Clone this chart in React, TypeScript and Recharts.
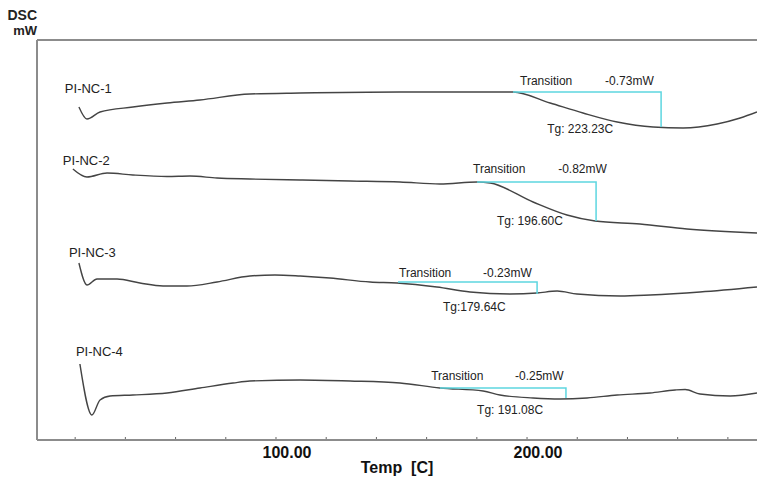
import { LineChart, Line, XAxis, YAxis, ReferenceDot, ReferenceLine, Label } from 'recharts';

type Pt = { t: number; v: number };

// temperature (C) vs. DSC signal in stacked, arbitrary offset units
const nc1: Pt[] = [
  { t: 21.5, v: 33.3 }, { t: 24.7, v: 32.1 }, { t: 29.9, v: 32.8 }, { t: 43, v: 33.3 },
  { t: 56.6, v: 33.7 }, { t: 69.7, v: 34.0 }, { t: 89.6, v: 34.6 }, { t: 109.6, v: 34.7 },
  { t: 149.4, v: 34.8 }, { t: 169.3, v: 34.8 }, { t: 194.4, v: 34.8 }, { t: 209.2, v: 33.7 },
  { t: 222.3, v: 32.7 }, { t: 235.9, v: 31.8 }, { t: 250.2, v: 31.3 }, { t: 262.2, v: 31.2 },
  { t: 275.7, v: 31.6 }, { t: 284.9, v: 32.2 }, { t: 291.6, v: 32.8 },
];

const nc2: Pt[] = [
  { t: 19.1, v: 27.1 }, { t: 24.7, v: 26.3 }, { t: 32.7, v: 26.7 }, { t: 43, v: 26.5 },
  { t: 56.6, v: 26.35 }, { t: 65.7, v: 26.4 }, { t: 76.5, v: 26.2 }, { t: 89.6, v: 26.1 },
  { t: 109.6, v: 26.0 }, { t: 129.5, v: 25.9 }, { t: 149.4, v: 25.8 }, { t: 165.3, v: 25.6 },
  { t: 180.1, v: 25.8 }, { t: 185.3, v: 25.7 }, { t: 202.4, v: 23.8 }, { t: 215.9, v: 22.5 },
  { t: 227.1, v: 21.9 }, { t: 245, v: 21.6 }, { t: 263.7, v: 21.1 }, { t: 291.6, v: 20.7 },
];

const nc3: Pt[] = [
  { t: 21.5, v: 17.7 }, { t: 24.7, v: 15.5 }, { t: 28.7, v: 16.1 }, { t: 36.7, v: 16.1 },
  { t: 45.8, v: 15.7 }, { t: 55, v: 15.4 }, { t: 64.5, v: 15.4 }, { t: 76.5, v: 15.8 },
  { t: 89.6, v: 16.4 }, { t: 99.6, v: 16.5 }, { t: 109.6, v: 16.4 }, { t: 121.5, v: 16.2 },
  { t: 137.5, v: 15.8 }, { t: 148.2, v: 15.7 }, { t: 164.1, v: 15.3 }, { t: 177.3, v: 14.8 },
  { t: 193.2, v: 14.6 }, { t: 204, v: 14.7 }, { t: 212, v: 14.9 }, { t: 219.9, v: 14.6 },
  { t: 237.1, v: 14.4 }, { t: 249, v: 14.5 }, { t: 268.9, v: 14.8 }, { t: 291.6, v: 15.3 },
];

const nc4: Pt[] = [
  { t: 21.9, v: 7.6 }, { t: 26.7, v: 2.5 }, { t: 29.9, v: 4.0 }, { t: 33.9, v: 4.4 },
  { t: 43, v: 4.5 }, { t: 56.6, v: 4.7 }, { t: 69.7, v: 5.2 }, { t: 82.9, v: 5.7 },
  { t: 89.6, v: 5.9 }, { t: 109.6, v: 6.0 }, { t: 129.5, v: 5.9 }, { t: 149.4, v: 5.7 },
  { t: 165.3, v: 5.2 }, { t: 182.5, v: 4.9 }, { t: 189.2, v: 4.5 }, { t: 202.4, v: 4.2 },
  { t: 213.1, v: 4.1 }, { t: 223.9, v: 4.2 }, { t: 235.9, v: 4.5 }, { t: 249, v: 4.7 },
  { t: 259, v: 5.0 }, { t: 263, v: 5.05 }, { t: 268.9, v: 4.6 }, { t: 280.9, v: 4.4 },
  { t: 291.6, v: 4.7 },
];

const curves = [nc1, nc2, nc3, nc4];

// step construction: onset -> end at the onset level, then down to the curve
const transitions = [
  { onset: 194.4, end: 253.4, top: 34.8, bottom: 31.3 },
  { onset: 180.1, end: 227.5, top: 25.8, bottom: 21.9 },
  { onset: 148.6, end: 204.0, top: 15.8, bottom: 14.6 },
  { onset: 165.3, end: 215.5, top: 5.2, bottom: 4.2 },
];

const sampleNames = [
  { t: 15.9, v: 34.7, text: 'PI-NC-1' },
  { t: 15.1, v: 27.5, text: 'PI-NC-2' },
  { t: 17.5, v: 18.3, text: 'PI-NC-3' },
  { t: 20.3, v: 8.4, text: 'PI-NC-4' },
];

const notes = [
  { t: 197.2, v: 35.5, text: 'Transition' },
  { t: 231.1, v: 35.5, text: '-0.73mW' },
  { t: 208.0, v: 30.7, text: 'Tg: 223.23C' },
  { t: 178.5, v: 26.7, text: 'Transition' },
  { t: 212.4, v: 26.7, text: '-0.82mW' },
  { t: 188.0, v: 21.5, text: 'Tg: 196.60C' },
  { t: 149.0, v: 16.3, text: 'Transition' },
  { t: 182.5, v: 16.3, text: '-0.23mW' },
  { t: 166.5, v: 12.9, text: 'Tg:179.64C' },
  { t: 161.8, v: 6.0, text: 'Transition' },
  { t: 195.2, v: 6.0, text: '-0.25mW' },
  { t: 180.1, v: 2.6, text: 'Tg: 191.08C' },
];

const xTicks = [20, 40, 60, 80, 100, 120, 140, 160, 180, 200, 220, 240, 260, 280];
const labelledTicks = [100, 200];

const X_MIN = 4.8;
const X_MAX = 291.6;
const AXIS = '#8c8c8c';
const CYAN = '#5dd6e0';

function Tick({ x, y, payload }: any) {
  const show = labelledTicks.includes(payload.value);
  return (
    <g>
      <line x1={x} x2={x} y1={y - 3} y2={y - 1} stroke="#666" strokeWidth={1} />
      {show && (
        <text x={x + 11} y={y + 18} textAnchor="middle" fontSize={16} fontWeight="bold" fill="#111">
          {payload.value.toFixed(2)}
        </text>
      )}
    </g>
  );
}

const textShape = (text: string, size: number) => (p: any) => (
  <text x={p.cx} y={p.cy} fontSize={size} fill="#222">{text}</text>
);

export default function App() {
  return (
    <div style={{ position: 'absolute', left: 0, top: 0, width: 757, height: 486, background: '#fff', fontFamily: '"Liberation Sans", Arial, sans-serif' }}>
      <div style={{ position: 'absolute', left: 0, top: 7, width: 37, textAlign: 'right', fontSize: 14, fontWeight: 'bold', color: '#222', lineHeight: '16px' }}>
        DSC
      </div>
      <div style={{ position: 'absolute', left: 0, top: 23, width: 37, textAlign: 'right', fontSize: 13, fontWeight: 'bold', color: '#222', lineHeight: '16px' }}>
        mW
      </div>
      <LineChart width={757} height={486} margin={{ top: 40, right: 0, bottom: 0, left: 37 }}>
        <XAxis
          dataKey="t"
          type="number"
          domain={[X_MIN, X_MAX]}
          allowDataOverflow
          ticks={xTicks}
          interval={0}
          height={46}
          tickSize={0}
          tickMargin={0}
          tickLine={false}
          tick={<Tick />}
          axisLine={{ stroke: AXIS, strokeWidth: 2 }}
        >
          <Label value={'Temp\u00a0 [C]'} position="insideBottom" offset={13} fontSize={16} fontWeight="bold" fill="#111" />
        </XAxis>
        <YAxis type="number" domain={[0, 40]} allowDataOverflow width={0} hide />
        <ReferenceLine y={40} stroke={AXIS} strokeWidth={2} />
        <ReferenceLine x={X_MIN} stroke={AXIS} strokeWidth={2} />
        {curves.map((d, i) => (
          <Line key={i} data={d} dataKey="v" type="monotone" stroke="#444" strokeWidth={1.4} dot={false} isAnimationActive={false} />
        ))}
        {transitions.map((s, i) => (
          <Line
            key={'tr' + i}
            data={[
              { t: s.onset, v: s.top },
              { t: s.end, v: s.top },
              { t: s.end, v: s.bottom },
            ]}
            dataKey="v"
            type="linear"
            stroke={CYAN}
            strokeWidth={1.5}
            dot={false}
            isAnimationActive={false}
          />
        ))}
        {sampleNames.map((n, i) => (
          <ReferenceDot key={'n' + i} x={n.t} y={n.v} r={0} shape={textShape(n.text, 13)} />
        ))}
        {notes.map((n, i) => (
          <ReferenceDot key={'a' + i} x={n.t} y={n.v} r={0} shape={textShape(n.text, 12)} />
        ))}
      </LineChart>
    </div>
  );
}
